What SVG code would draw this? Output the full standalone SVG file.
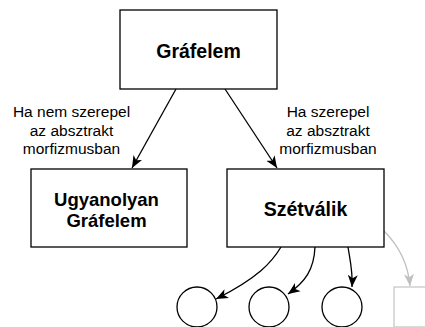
<svg xmlns="http://www.w3.org/2000/svg" width="425" height="327" viewBox="0 0 425 327">
  <style>
    .box { fill: #ffffff; stroke: #000000; stroke-width: 1.3; }
    .ghost { fill: #ffffff; stroke: #c8c8c8; stroke-width: 1.3; }
    .title { font-family: "Liberation Sans", Arial, sans-serif; font-weight: bold; font-size: 19.5px; fill: #000000; text-anchor: middle; }
    .title-sm { font-size: 18.5px; }
    .label { font-family: "Liberation Sans", Arial, sans-serif; font-size: 15.5px; fill: #000000; text-anchor: middle; }
    .edge { fill: none; stroke: #000000; stroke-width: 1.3; }
    .edge-ghost { fill: none; stroke: #c0c0c0; stroke-width: 1.3; }
  </style>
  <defs>
    <marker id="arrow" markerUnits="userSpaceOnUse" markerWidth="13" markerHeight="11" refX="12" refY="5" orient="auto" viewBox="0 0 13 10">
      <path d="M0,0 L12,5 L0,10 L3.2,5 Z" fill="#000000"/>
    </marker>
    <marker id="arrow-ghost" markerUnits="userSpaceOnUse" markerWidth="13" markerHeight="11" refX="12" refY="5" orient="auto" viewBox="0 0 13 10">
      <path d="M0,0 L12,5 L0,10 L3.2,5 Z" fill="#c0c0c0"/>
    </marker>
  </defs>

  <g id="connectors">
    <path class="edge" d="M176,89 L132,168" marker-end="url(#arrow)"/>
    <path class="edge" d="M225,89 L277,168" marker-end="url(#arrow)"/>
    <path class="edge" d="M281,247 C272,262 258,278 216,299" marker-end="url(#arrow)"/>
    <path class="edge" d="M315,247 C314,270 305,282 288,294" marker-end="url(#arrow)"/>
    <path class="edge" d="M348,247 C350,260 353,272 352,287" marker-end="url(#arrow)"/>
    <path class="edge-ghost" d="M384,231 C398,245 408,262 410,286" marker-end="url(#arrow-ghost)"/>
  </g>

  <g id="label-left">
    <text class="label" x="71.5" y="116.5">Ha nem szerepel</text>
    <text class="label" x="71.5" y="135.5">az absztrakt</text>
    <text class="label" x="71.5" y="154">morfizmusban</text>
  </g>
  <g id="label-right">
    <text class="label" x="328" y="116.5">Ha szerepel</text>
    <text class="label" x="328" y="135.5">az absztrakt</text>
    <text class="label" x="328" y="154">morfizmusban</text>
  </g>

  <g id="grafelem">
    <rect class="box" x="120" y="10" width="157" height="79"/>
    <text class="title" x="198.5" y="58">Gráfelem</text>
  </g>

  <g id="ugyanolyan">
    <rect class="box" x="31" y="169" width="156" height="78"/>
    <text class="title title-sm" x="106.5" y="205.5">Ugyanolyan</text>
    <text class="title title-sm" x="106.5" y="227">Gráfelem</text>
  </g>

  <g id="szetvalik">
    <rect class="box" x="227" y="169" width="157" height="78"/>
    <text class="title" x="305.5" y="215.5">Szétválik</text>
  </g>

  <g id="part-1">
    <circle class="box" cx="197" cy="307" r="20"/>
  </g>
  <g id="part-2">
    <circle class="box" cx="269" cy="307" r="20"/>
  </g>
  <g id="part-3">
    <circle class="box" cx="342" cy="307" r="20"/>
  </g>
  <g id="part-more">
    <rect class="ghost" x="394" y="287" width="40" height="40"/>
  </g>
</svg>
